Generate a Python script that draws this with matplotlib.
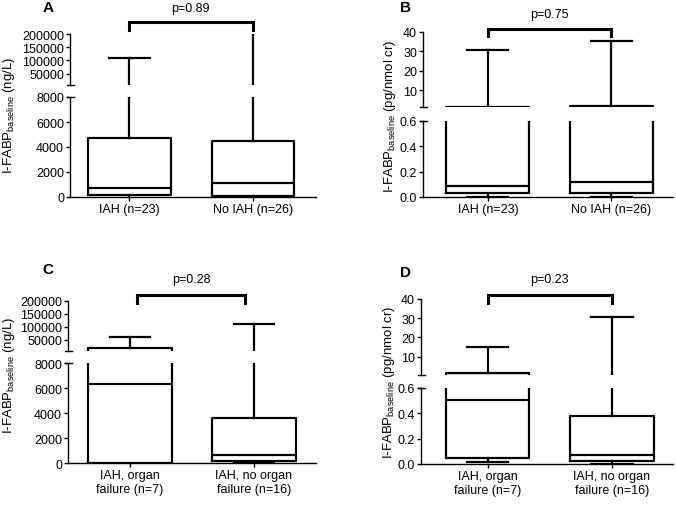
import matplotlib
matplotlib.use('Agg')
import matplotlib.pyplot as plt
from matplotlib.transforms import blended_transform_factory

plt.rcParams['font.family'] = ['Liberation Sans', 'DejaVu Sans']
plt.rcParams['mathtext.fontset'] = 'custom'
plt.rcParams['mathtext.rm'] = 'Liberation Sans'

W, H = 676, 506

# group labels
labels_ab = ['IAH (n=23)', 'No IAH (n=26)']
labels_cd = ['IAH, organ\nfailure (n=7)', 'IAH, no organ\nfailure (n=16)']

# box stats: (whislo, q1, median, q3, whishi)
a_stats = [(0, 150, 700, 4750, 110000), (0, 120, 1150, 4450, 200000)]
b_stats = [(0.003, 0.03, 0.085, 1.5, 30.5), (0.003, 0.03, 0.12, 1.95, 35)]
c_stats = [(0, 60, 6350, 20000, 60000), (20, 180, 650, 3650, 110000)]
d_stats = [(0.013, 0.05, 0.5, 1.7, 15), (0.003, 0.022, 0.07, 0.38, 30.7)]

p_values = ['p=0.89', 'p=0.75', 'p=0.28', 'p=0.23']

ng_lower_ticks = [0, 2000, 4000, 6000, 8000]
ng_upper_ticks = [50000, 100000, 150000, 200000]
pg_lower_ticks = [0.0, 0.2, 0.4, 0.6]
pg_upper_ticks = [10, 20, 30, 40]

ylabel_ng = r'I-FABP$_{\mathregular{baseline}}$ (ng/L)'
ylabel_pg = r'I-FABP$_{\mathregular{baseline}}$ (pg/nmol cr)'

FS = 9

fig = plt.figure(figsize=(W / 100, H / 100), dpi=100)


def px_axes(left, top, right, bottom):
    return fig.add_axes([left / W, 1 - bottom / H, (right - left) / W, (bottom - top) / H])


def style(ax):
    for s in ['top', 'right']:
        ax.spines[s].set_visible(False)
    ax.spines['left'].set_linewidth(1.0)
    ax.spines['bottom'].set_linewidth(1.0)
    ax.tick_params(axis='both', direction='out', length=3.2, width=1.0, pad=1, labelsize=FS)
    ax.set_facecolor('none')


def draw_box(ax, stats, ylim):
    data = [dict(whislo=s[0], q1=s[1], med=s[2], q3=s[3], whishi=s[4], fliers=[]) for s in stats]
    lp = dict(color='black', linewidth=1.6)
    arts = ax.bxp(data, positions=[1, 2], widths=0.67, showfliers=False, capwidths=0.33,
                  boxprops=lp, medianprops=lp, whiskerprops=lp, capprops=lp)
    # hide pieces lying wholly outside this segment of the broken axis
    for key in ['boxes', 'medians', 'whiskers', 'caps']:
        for ln in arts[key]:
            ys = ln.get_ydata()
            if max(ys) <= ylim[0] or min(ys) >= ylim[1]:
                ln.set_visible(False)


def panel(letter, stats, labels, pval, ylabel, lower, upper, xlim, lylim, uylim,
          lticks, uticks, lfmt, bracket, letter_xy, p_xy, ylabel_xy):
    lo = px_axes(*lower)
    up = px_axes(*upper)
    for ax, yl in ((lo, lylim), (up, uylim)):
        style(ax)
        draw_box(ax, stats, yl)
        ax.set_xlim(*xlim)
        ax.set_ylim(*yl)
    lo.set_yticks(lticks)
    lo.set_yticklabels([lfmt(t) for t in lticks])
    up.set_yticks(uticks)
    up.set_yticklabels([str(t) for t in uticks])
    lo.set_xticks([1, 2])
    lo.set_xticklabels(labels, linespacing=1.25)
    up.spines['bottom'].set_visible(False)
    up.set_xticks([])

    # break markers at spine ends
    d_lo = 3.5 / (lower[2] - lower[0])
    d_up = 3.5 / (upper[2] - upper[0])
    lo.plot([-d_lo, d_lo], [1, 1], transform=lo.transAxes, color='black', lw=1.0, clip_on=False)
    up.plot([-d_up, d_up], [0, 0], transform=up.transAxes, color='black', lw=1.0, clip_on=False)

    # significance bracket
    x1, x2, ytop, yend = bracket
    tr = blended_transform_factory(up.transData, fig.transFigure)
    up.plot([x1, x1, x2, x2], [1 - yend / H, 1 - ytop / H, 1 - ytop / H, 1 - yend / H],
            transform=tr, color='black', lw=2.2, clip_on=False, solid_joinstyle='miter')
    up.set_xlim(*xlim)
    up.set_ylim(*uylim)

    fig.text(letter_xy[0] / W, 1 - letter_xy[1] / H, letter, fontsize=11,
             fontweight='bold', ha='center', va='center')
    fig.text(p_xy[0] / W, 1 - p_xy[1] / H, pval, fontsize=FS, ha='center', va='center')
    fig.text(ylabel_xy[0] / W, 1 - ylabel_xy[1] / H, ylabel, fontsize=9.5, rotation=90,
             ha='center', va='center')


def fmt_int(t):
    return str(int(t))


def fmt_1(t):
    return '%.1f' % t


panel('A', a_stats, labels_ab, p_values[0], ylabel_ng,
      (70, 98, 316, 198), (70, 35, 316, 85.6), (0.52, 2.51), (0, 8000), (8000, 200000),
      ng_lower_ticks, ng_upper_ticks, fmt_int, (1, 2, 23, 31),
      (48.3, 8.5), (190, 9), (9, 115.5))
panel('B', b_stats, labels_ab, p_values[1], ylabel_pg,
      (423, 121.7, 673, 198), (423, 32.7, 673, 108.3), (0.475, 2.5), (0, 0.6), (1.1, 40),
      pg_lower_ticks, pg_upper_ticks, fmt_1, (1, 2, 30, 36.7),
      (405.7, 8.5), (549.3, 15), (390, 116))
panel('C', c_stats, labels_cd, p_values[2], ylabel_ng,
      (68, 364.3, 316, 464.3), (68, 302, 316, 351.7), (0.5, 2.5), (0, 8000), (8000, 200000),
      ng_lower_ticks, ng_upper_ticks, fmt_int, (1.06, 1.93, 296.3, 303.7),
      (48, 270), (191, 279.7), (9, 375))
panel('D', d_stats, labels_cd, p_values[3], ylabel_pg,
      (421, 388.7, 673, 465), (421, 300, 673, 376), (0.465, 2.49), (0, 0.6), (0.5, 40),
      pg_lower_ticks, pg_upper_ticks, fmt_1, (1, 2, 296.3, 303.7),
      (405.7, 273), (549.3, 280.5), (389, 382))

fig.savefig('out.png', dpi=100)
